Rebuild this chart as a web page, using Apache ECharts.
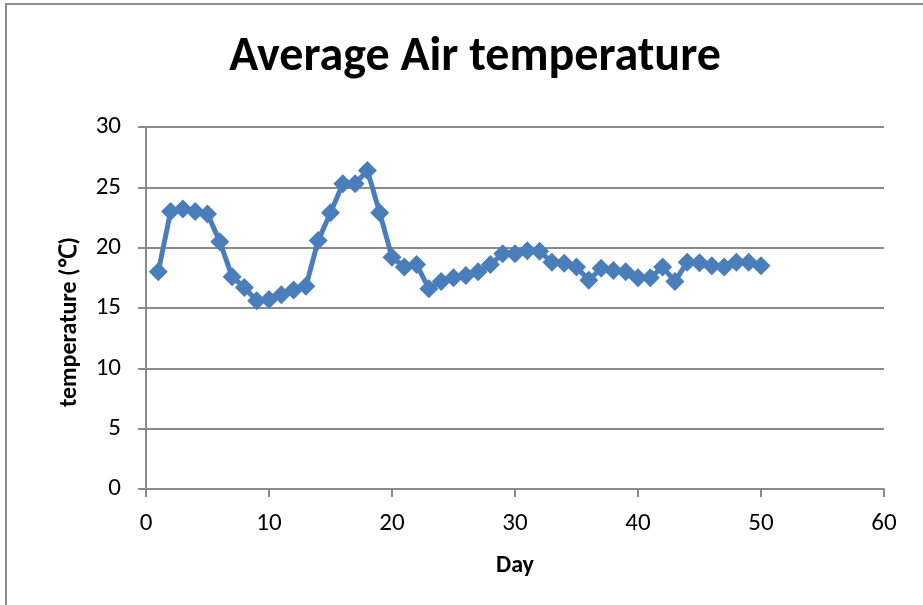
<!DOCTYPE html>
<html>
<head>
<meta charset="utf-8">
<title>Average Air temperature</title>
<script src="https://cdn.jsdelivr.net/npm/echarts@6/dist/echarts.min.js"></script>
<style>
  html, body { margin: 0; padding: 0; background: #ffffff; }
  #chart { width: 923px; height: 605px; }
</style>
</head>
<body>
<div id="chart"></div>
<script>
// Daily average air temperature, days 1..50
const days = [
  1, 2, 3, 4, 5, 6, 7, 8, 9, 10,
  11, 12, 13, 14, 15, 16, 17, 18, 19, 20,
  21, 22, 23, 24, 25, 26, 27, 28, 29, 30,
  31, 32, 33, 34, 35, 36, 37, 38, 39, 40,
  41, 42, 43, 44, 45, 46, 47, 48, 49, 50
];
const temperature = [
  18.0, 23.0, 23.2, 23.0, 22.8, 20.5, 17.6, 16.7, 15.6, 15.7,
  16.1, 16.5, 16.8, 20.6, 22.9, 25.3, 25.3, 26.4, 22.9, 19.2,
  18.4, 18.6, 16.6, 17.2, 17.5, 17.7, 18.0, 18.6, 19.5, 19.5,
  19.75, 19.7, 18.8, 18.7, 18.4, 17.3, 18.3, 18.1, 18.0, 17.5,
  17.5, 18.4, 17.2, 18.8, 18.75, 18.5, 18.4, 18.8, 18.8, 18.5
];
const xTicks = [0, 10, 20, 30, 40, 50, 60];
const yTicks = [0, 5, 10, 15, 20, 25, 30];

const points = days.map((d, i) => [d, temperature[i]]);

const font = "Carlito, 'Liberation Sans', Arial, sans-serif";
const gridGray = '#8a8a8a';

const chart = echarts.init(document.getElementById('chart'), null, { renderer: 'canvas' });
chart.setOption({
  backgroundColor: '#ffffff',
  animation: false,
  title: {
    text: 'Average Air temperature',
    left: 470,
    textAlign: 'center',
    top: 29,
    textStyle: { fontFamily: font, fontSize: 48, fontWeight: 'bold', color: '#000000' }
  },
  graphic: [{
    type: 'rect',
    shape: { x: 6, y: 4, width: 940, height: 640 },
    style: { fill: 'none', stroke: '#8c8c8c', lineWidth: 2 },
    silent: true
  }],
  grid: { left: 146, right: 39, top: 127, bottom: 116 },
  xAxis: {
    type: 'value',
    min: xTicks[0],
    max: xTicks[xTicks.length - 1],
    interval: 10,
    name: 'Day',
    nameLocation: 'middle',
    nameGap: 65,
    nameTextStyle: { fontFamily: font, fontSize: 24, fontWeight: 'bold', color: '#000000' },
    axisLine: { show: true, onZero: false, lineStyle: { color: gridGray, width: 2 } },
    axisTick: { show: true, inside: false, length: 8, lineStyle: { color: gridGray, width: 2 } },
    axisLabel: { margin: 22, fontFamily: font, fontSize: 25, color: '#000000' },
    splitLine: { show: false }
  },
  yAxis: {
    type: 'value',
    min: yTicks[0],
    max: yTicks[yTicks.length - 1],
    interval: 5,
    name: 'temperature (℃)',
    nameLocation: 'middle',
    nameGap: 64,
    nameRotate: 90,
    nameTextStyle: {
      fontFamily: font, fontSize: 24, fontWeight: 'bold', color: '#000000',
      padding: [0, 28, 0, 0]
    },
    axisLine: { show: true, lineStyle: { color: gridGray, width: 2 } },
    axisTick: { show: true, inside: false, length: 8, lineStyle: { color: gridGray, width: 2 } },
    axisLabel: { margin: 25, fontFamily: font, fontSize: 25, color: '#000000' },
    splitLine: { show: true, lineStyle: { color: gridGray, width: 2 } }
  },
  series: [{
    type: 'line',
    data: points,
    symbol: 'diamond',
    symbolSize: 19,
    showAllSymbol: true,
    lineStyle: { color: '#4a7ebb', width: 5 },
    itemStyle: { color: '#4a7ebb', borderWidth: 0 }
  }]
});
</script>
</body>
</html>
